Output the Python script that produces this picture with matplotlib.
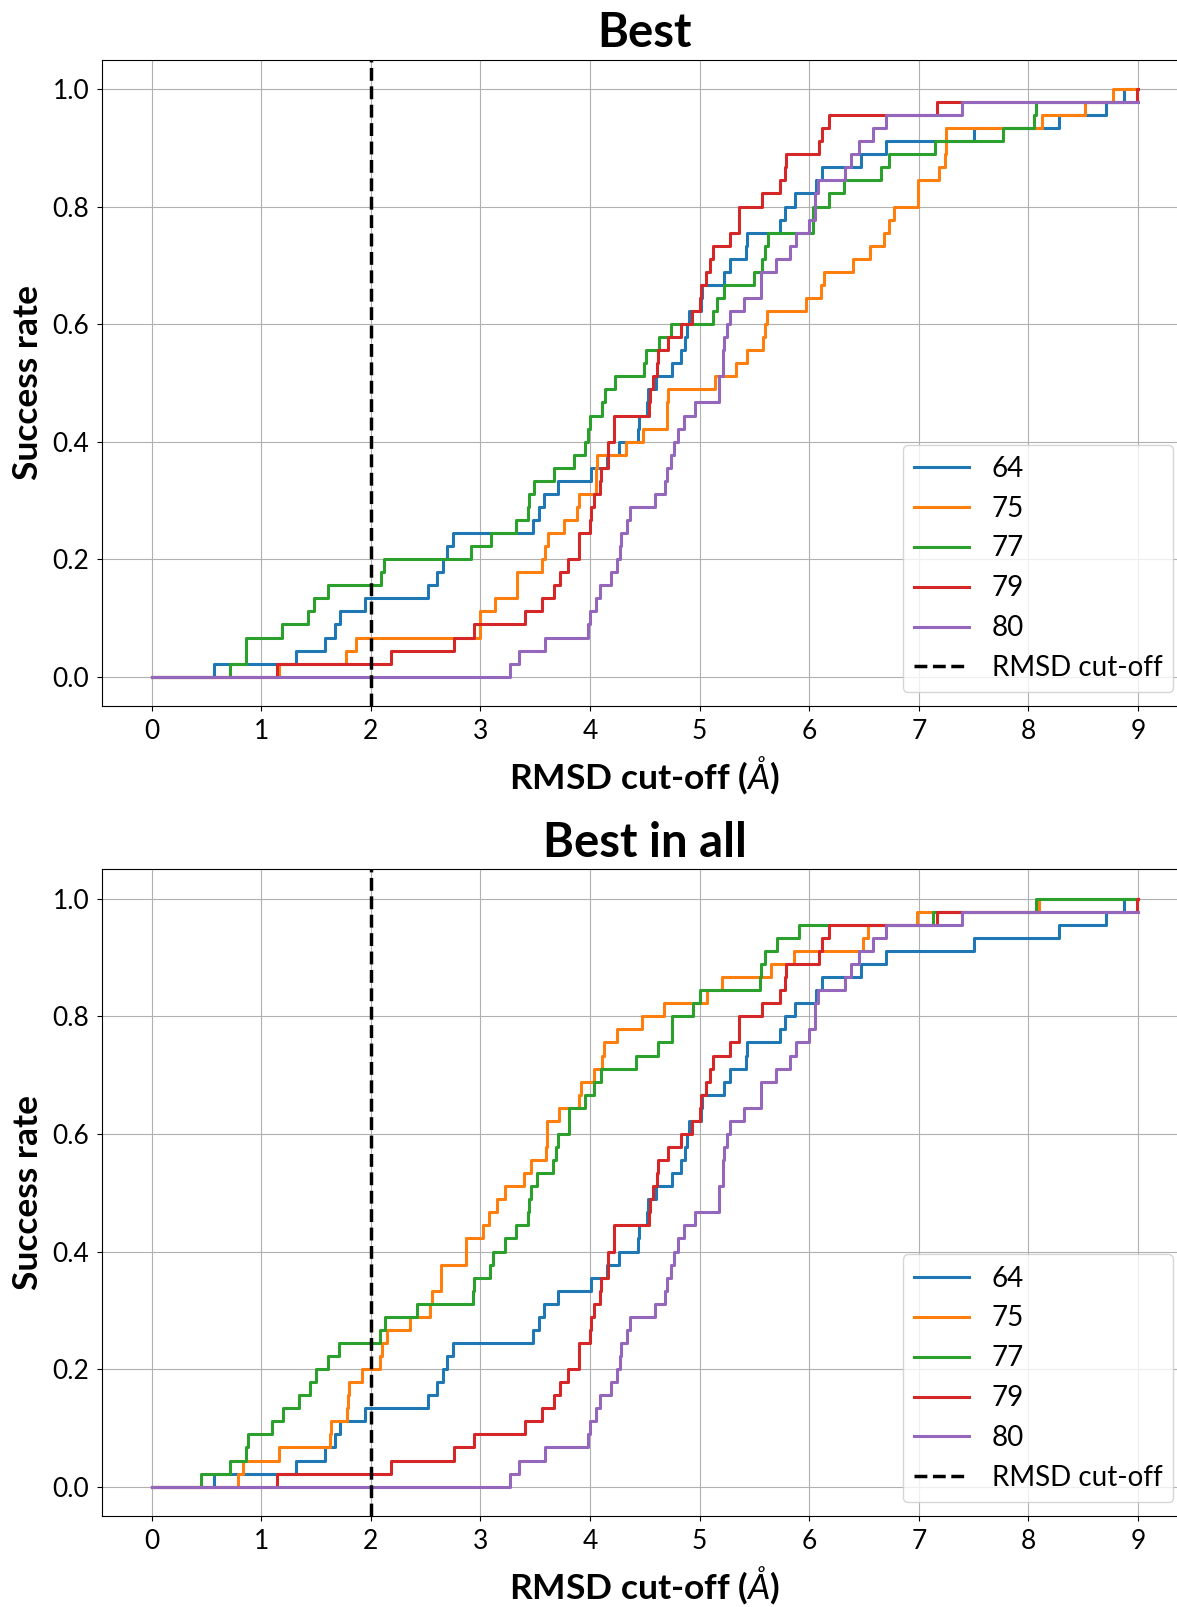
import numpy as np
import matplotlib
matplotlib.use('Agg')
import matplotlib.pyplot as plt

plt.rcParams['font.family'] = 'Lato'
plt.rcParams['mathtext.fontset'] = 'custom'
plt.rcParams['mathtext.rm'] = 'Lato'
plt.rcParams['mathtext.it'] = 'Lato:italic'
plt.rcParams['mathtext.bf'] = 'Lato:bold'

N_TARGETS = 45      # number of test targets
X_MAX = 9.0         # largest cut-off evaluated
CUTOFF = 2.0

labels = ['64', '75', '77', '79', '80']
colors = ['tab:blue', 'tab:orange', 'tab:green', 'tab:red', 'tab:purple']

# RMSD (A) of the best pose per target, values above 9 A left out
best_64 = [0.57, 1.32, 1.58, 1.67, 1.72, 1.95, 2.52, 2.60, 2.66, 2.69, 2.75, 3.48,
           3.53, 3.58, 3.71, 4.01, 4.15, 4.26, 4.44, 4.45, 4.52, 4.53, 4.60, 4.75,
           4.83, 4.87, 4.88, 4.90, 5.01, 5.02, 5.22, 5.28, 5.42, 5.43, 5.73, 5.78,
           5.87, 6.06, 6.12, 6.47, 6.70, 7.50, 8.28, 8.71, 8.87]
best_75 = [1.16, 1.77, 1.86, 3.00, 3.00, 3.13, 3.33, 3.33, 3.56, 3.59, 3.62, 3.76,
           3.88, 3.90, 4.05, 4.05, 4.06, 4.33, 4.48, 4.70, 4.70, 4.71, 5.14, 5.33,
           5.43, 5.58, 5.60, 5.61, 5.97, 6.11, 6.13, 6.40, 6.55, 6.68, 6.73, 6.77,
           6.99, 6.99, 7.18, 7.24, 7.25, 7.25, 8.12, 8.52, 8.77]
best_77 = [0.71, 0.86, 0.86, 1.19, 1.43, 1.48, 1.61, 2.09, 2.12, 2.91, 3.10, 3.32,
           3.43, 3.44, 3.49, 3.67, 3.85, 3.95, 3.98, 4.00, 4.11, 4.14, 4.23, 4.49,
           4.51, 4.63, 4.74, 5.12, 5.16, 5.22, 5.50, 5.57, 5.60, 5.62, 6.03, 6.03,
           6.18, 6.32, 6.65, 6.73, 7.15, 7.77, 8.05, 8.07]
best_79 = [1.14, 2.18, 2.76, 2.94, 3.41, 3.56, 3.67, 3.73, 3.80, 3.90, 3.90, 4.00,
           4.01, 4.04, 4.09, 4.10, 4.16, 4.16, 4.22, 4.22, 4.54, 4.55, 4.57, 4.61,
           4.62, 4.71, 4.83, 4.93, 5.00, 5.01, 5.06, 5.09, 5.12, 5.28, 5.36, 5.36,
           5.57, 5.73, 5.78, 5.79, 6.09, 6.12, 6.18, 7.17, 8.99]
best_80 = [3.27, 3.35, 3.59, 3.98, 4.00, 4.05, 4.09, 4.19, 4.25, 4.27, 4.28, 4.34,
           4.36, 4.59, 4.68, 4.70, 4.74, 4.77, 4.80, 4.86, 4.96, 5.18, 5.18, 5.21,
           5.21, 5.22, 5.25, 5.28, 5.40, 5.56, 5.56, 5.70, 5.82, 5.88, 6.00, 6.05,
           6.05, 6.08, 6.33, 6.38, 6.45, 6.58, 6.70, 7.39]

# best pose over all runs; 64, 79 and 80 give the same values as above
all_64 = list(best_64)
all_75 = [0.79, 0.83, 1.16, 1.63, 1.64, 1.78, 1.79, 1.80, 1.92, 2.08, 2.10, 2.15,
          2.36, 2.54, 2.56, 2.64, 2.64, 2.87, 2.87, 3.02, 3.08, 3.15, 3.22, 3.40,
          3.46, 3.60, 3.61, 3.61, 3.72, 3.90, 3.92, 4.04, 4.11, 4.13, 4.25, 4.47,
          4.67, 5.07, 5.20, 5.65, 5.86, 6.49, 6.54, 6.98, 8.10]
all_77 = [0.45, 0.71, 0.86, 0.88, 1.10, 1.20, 1.34, 1.44, 1.50, 1.61, 1.71, 2.08,
          2.13, 2.42, 2.93, 2.94, 3.09, 3.11, 3.22, 3.32, 3.43, 3.44, 3.46, 3.52,
          3.66, 3.69, 3.71, 3.81, 3.81, 3.95, 4.04, 4.10, 4.42, 4.62, 4.75, 4.75,
          4.94, 5.00, 5.55, 5.56, 5.60, 5.71, 5.91, 7.13, 8.07]
all_79 = list(best_79)
all_80 = list(best_80)


def success_curve(rmsds):
    r = np.sort(rmsds)
    x = np.concatenate([[0.0], r, [X_MAX]])
    y = np.arange(len(r) + 1) / N_TARGETS
    y = np.append(y, y[-1])
    return x, y


def draw_panel(ax, title, series):
    for vals, lab, col in zip(series, labels, colors):
        x, y = success_curve(vals)
        ax.step(x, y, where='post', color=col, lw=2.2, label=lab)
    ax.axvline(CUTOFF, color='k', ls='--', lw=2.5, label='RMSD cut-off')
    ax.set_xlim(-0.45, 9.45)
    ax.set_ylim(-0.05, 1.05)
    ax.set_xticks(range(10))
    ax.set_yticks([0.0, 0.2, 0.4, 0.6, 0.8, 1.0])
    ax.grid(True)
    ax.set_title(title, fontsize=34, fontweight='bold', pad=9)
    ax.set_xlabel(r'RMSD cut-off ($\AA$)', fontsize=25.5, fontweight='bold', labelpad=7)
    ax.set_ylabel('Success rate', fontsize=25.5, fontweight='bold', labelpad=6)
    ax.tick_params(labelsize=19, pad=6)
    ax.legend(loc='lower right', fontsize=20)


fig = plt.figure(figsize=(11.77, 16.07), dpi=100)
ax1 = fig.add_axes([0.0870, 0.5606, 0.9218, 0.4023])
ax2 = fig.add_axes([0.0870, 0.0566, 0.9218, 0.4024])

draw_panel(ax1, 'Best', [best_64, best_75, best_77, best_79, best_80])
draw_panel(ax2, 'Best in all', [all_64, all_75, all_77, all_79, all_80])

fig.savefig('out.png', dpi=100)
